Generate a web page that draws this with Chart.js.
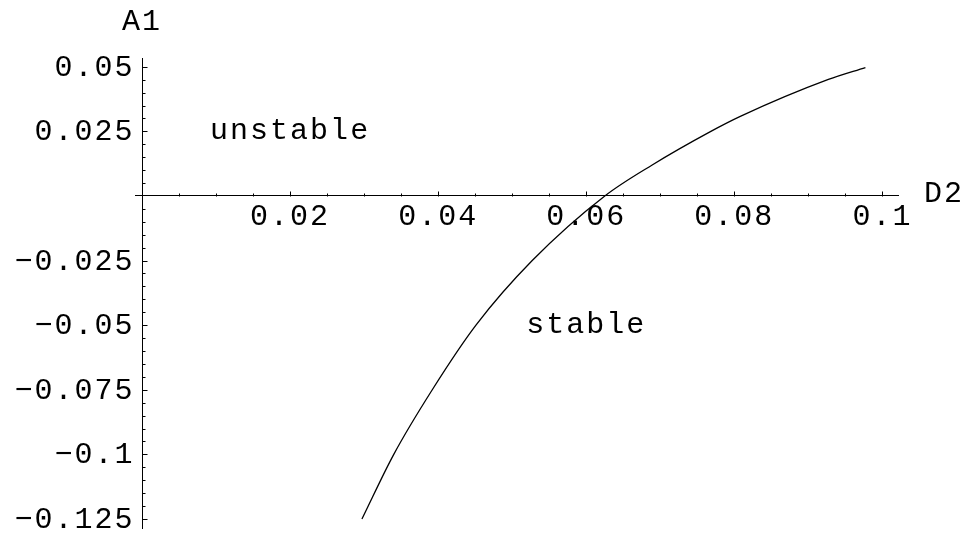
<!DOCTYPE html>
<html>
<head>
<meta charset="utf-8">
<script src="https://cdn.jsdelivr.net/npm/chart.js"></script>
<style>
  html, body { margin: 0; padding: 0; background: #fff; }
  #wrap { width: 965px; height: 534px; }
</style>
</head>
<body>
<div id="wrap"><canvas id="stabilityChart"></canvas></div>
<script>
// boundary curve (D2 on x, A1 on y)
const d2Values = [0.0297, 0.0340, 0.0392, 0.0451, 0.0527, 0.0625, 0.0689, 0.0767, 0.0808, 0.0927, 0.0977];
const a1Values = [-0.125, -0.100, -0.075, -0.050, -0.025, 0.000, 0.0120, 0.0248, 0.0308, 0.0451, 0.0497];

const xTicks = [0.02, 0.04, 0.06, 0.08, 0.1];
const yTicks = [0.05, 0.025, -0.025, -0.05, -0.075, -0.1, -0.125];

const regionNames = ['unstable', 'stable'];
const regionX = [0.02, 0.06];
const regionY = [0.025, -0.05];

const FONT = { family: '"Liberation Mono", "Courier New", monospace', size: 30 };
const SPACING = '2px';

function fmt(v) {
  const r = Math.round(v * 1000) / 1000;
  const s = String(Math.abs(r));
  return r < 0 ? '\u2212' + s : s;
}

// letter spacing for all canvas text (Mathematica Courier is loosely spaced)
const spacingPlugin = {
  id: 'spacing',
  beforeDraw(chart) { chart.ctx.letterSpacing = SPACING; }
};

// tick marks point into the positive side, with minor ticks every 0.005
const axisDecor = {
  id: 'axisDecor',
  afterDraw(chart) {
    const ctx = chart.ctx;
    const xs = chart.scales.x, ys = chart.scales.y;
    const x0 = Math.round(xs.getPixelForValue(0)) + 0.5;
    const y0 = Math.round(ys.getPixelForValue(0)) + 0.5;
    ctx.save();
    ctx.strokeStyle = '#000';
    ctx.lineWidth = 1;
    ctx.beginPath();
    for (let k = 1; k <= 20; k++) {
      const px = Math.round(xs.getPixelForValue(k * 0.005)) + 0.5;
      const len = k % 4 === 0 ? 5 : 3;
      ctx.moveTo(px, y0);
      ctx.lineTo(px, y0 - len);
    }
    for (let k = -25; k <= 10; k++) {
      if (k === 0) continue;
      const py = Math.round(ys.getPixelForValue(k * 0.005)) + 0.5;
      const len = k % 5 === 0 ? 5 : 3;
      ctx.moveTo(x0, py);
      ctx.lineTo(x0 + len, py);
    }
    ctx.stroke();

    ctx.fillStyle = '#000';
    ctx.font = FONT.size + 'px ' + FONT.family;
    ctx.letterSpacing = SPACING;
    ctx.textBaseline = 'middle';
    // y tick labels (the centred axis ignores ticks.padding, so placed here)
    ctx.textAlign = 'right';
    yTicks.forEach(v => {
      ctx.fillText(fmt(v), x0 - 8, ys.getPixelForValue(v) + 1);
    });
    ctx.textAlign = 'center';
    regionNames.forEach((name, i) => {
      ctx.fillText(name, xs.getPixelForValue(regionX[i]), ys.getPixelForValue(regionY[i]));
    });
    // axis names
    ctx.fillText('A1', xs.getPixelForValue(0), 22);
    ctx.fillText('D2', chart.chartArea.right + 46, ys.getPixelForValue(0) - 2);
    ctx.restore();
  }
};

const ctx = document.getElementById('stabilityChart').getContext('2d');
const stabilityChart = new Chart(ctx, {
  type: 'scatter',
  data: {
    datasets: [{
      label: 'A1(D2)',
      data: d2Values.map((d, i) => ({ x: d, y: a1Values[i] })),
      showLine: true,
      borderColor: '#000',
      borderWidth: 1.3,
      pointRadius: 0,
      cubicInterpolationMode: 'monotone',
      fill: false
    }]
  },
  options: {
    responsive: true,
    maintainAspectRatio: false,
    animation: false,
    layout: { padding: { left: 135, right: 67, top: 58, bottom: 6 } },
    plugins: {
      legend: { display: false },
      tooltip: { enabled: false }
    },
    scales: {
      x: {
        type: 'linear',
        position: { y: 0 },
        min: -0.00095,
        max: 0.1021,
        afterBuildTicks: (s) => { s.ticks = xTicks.map(v => ({ value: v })); },
        afterFit: (s) => { s.paddingLeft = 0; s.paddingRight = 0; },
        ticks: {
          callback: fmt,
          font: FONT,
          color: '#000',
          padding: 3,
          autoSkip: false,
          maxRotation: 0
        },
        grid: { display: false, drawTicks: false },
        border: { display: true, color: '#000', width: 1 }
      },
      y: {
        type: 'linear',
        position: { x: 0 },
        min: -0.1285,
        max: 0.0534,
        afterBuildTicks: (s) => { s.ticks = yTicks.map(v => ({ value: v })); },
        afterFit: (s) => { s.paddingTop = 0; s.paddingBottom = 0; },
        ticks: { display: false },
        grid: { display: false, drawTicks: false },
        border: { display: true, color: '#000', width: 1 }
      }
    }
  },
  plugins: [spacingPlugin, axisDecor]
});
</script>
</body>
</html>
